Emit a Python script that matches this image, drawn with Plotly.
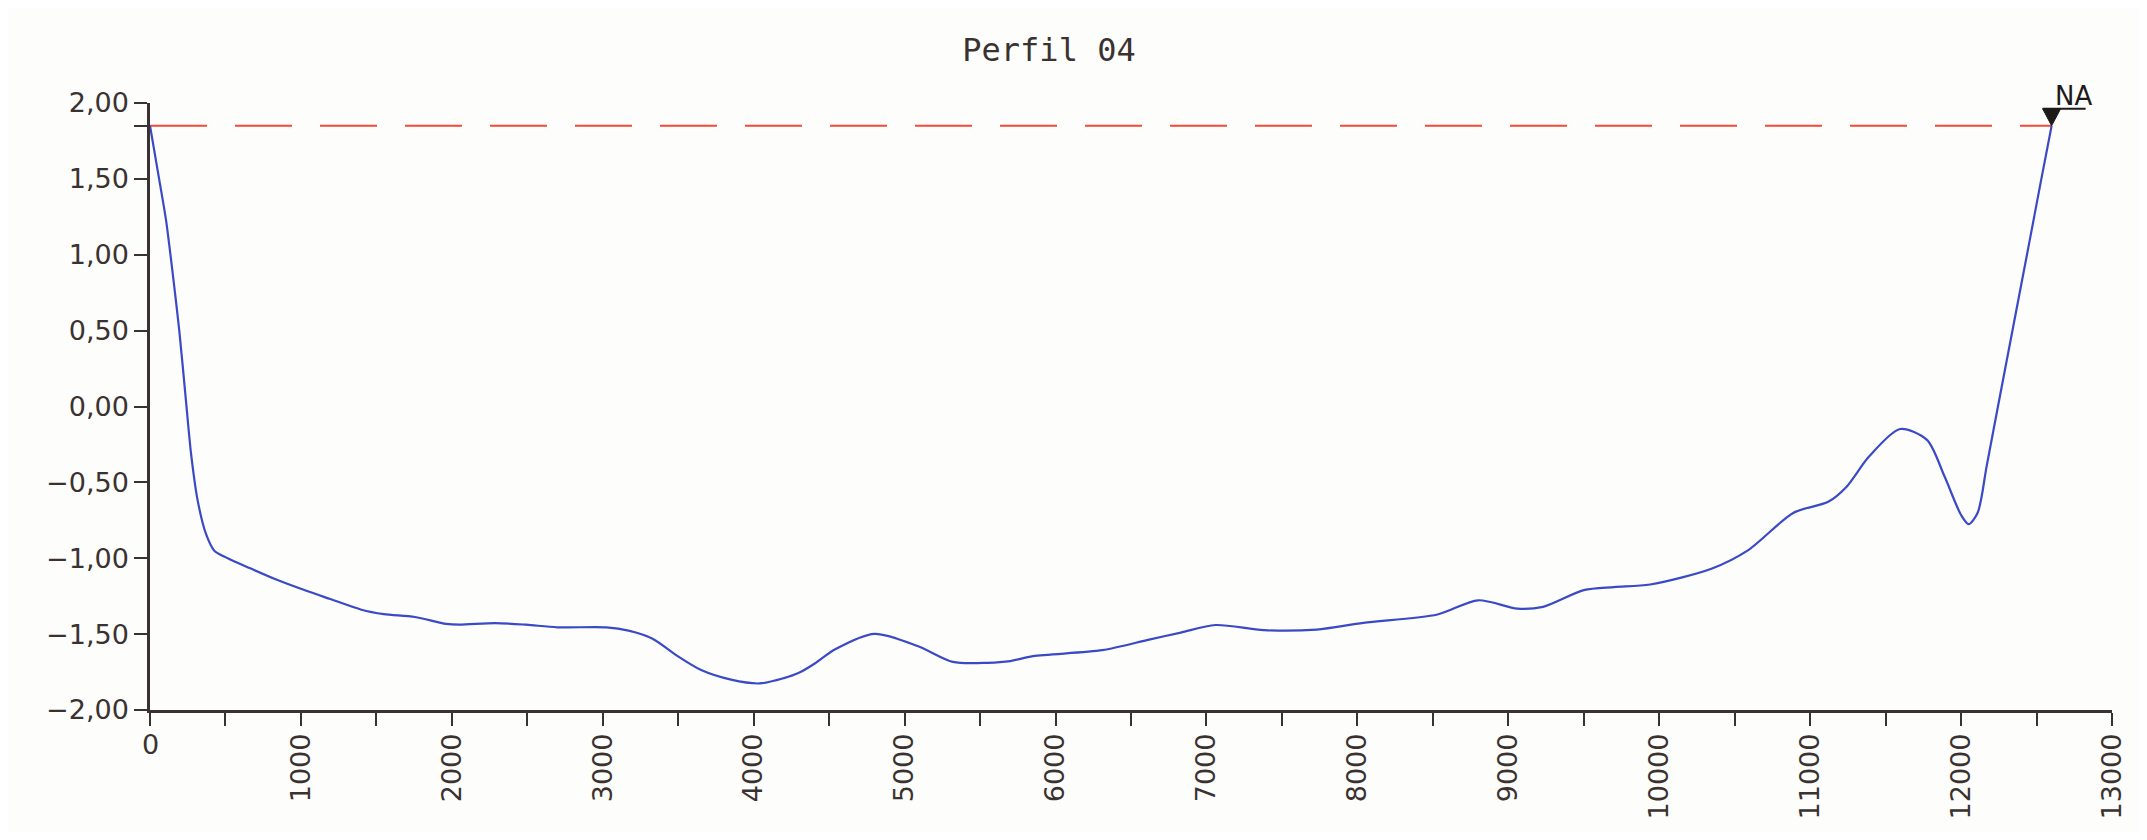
import plotly.graph_objects as go

# ---- data ----
dist = [0, 62, 106, 150, 194, 238, 272, 316, 371, 426, 515, 664, 841, 1018, 1195,
        1401, 1549, 1755, 1962, 2050, 2286, 2493, 2699, 3024, 3171, 3330, 3496,
        3648, 3850, 4040, 4200, 4300, 4410, 4540, 4800, 5090, 5320, 5550, 5700,
        5850, 6310, 6620, 6830, 7060, 7380, 7730, 8040, 8530, 8800, 9060, 9230,
        9500, 9700, 9940, 10350, 10590, 10890, 11120, 11240, 11390, 11596,
        11774, 11890, 12000, 12050, 12110, 12170, 12250, 12350, 12450, 12530, 12600]
cota = [1.85, 1.49, 1.23, 0.88, 0.50, 0.04, -0.31, -0.62, -0.84, -0.95, -1.00,
        -1.066, -1.142, -1.208, -1.269, -1.339, -1.368, -1.387, -1.433, -1.438,
        -1.427, -1.438, -1.455, -1.455, -1.477, -1.53, -1.645, -1.735, -1.80,
        -1.825, -1.79, -1.755, -1.69, -1.60, -1.498, -1.58, -1.683, -1.689, -1.678,
        -1.645, -1.606, -1.536, -1.49, -1.44, -1.474, -1.47, -1.426, -1.371,
        -1.277, -1.332, -1.32, -1.21, -1.19, -1.173, -1.067, -0.946, -0.70, -0.628,
        -0.53, -0.33, -0.148, -0.22, -0.46, -0.715, -0.775, -0.70, -0.39, 0.03,
        0.55, 1.07, 1.49, 1.85]
water_level = 1.85
water_label = "NA"
title_text = "Perfil 04"

xtick_vals = list(range(0, 13001, 500))
xtick_text = ["" if (v % 1000 or v == 0) else str(v) for v in xtick_vals]
x_zero_label = "0"
ytick_vals = [-2.0, -1.5, -1.0, -0.5, 0.0, 0.5, 1.0, 1.5, 1.85, 2.0]
ytick_text = ["\u22122,00", "\u22121,50", "\u22121,00", "\u22120,50", "0,00",
              "0,50", "1,00", "1,50", "", "2,00"]

INK = "#3a3230"
TICKFONT = dict(family="DejaVu Sans", size=27, color=INK)

# page body has an 8px margin: figure coordinates are page coordinates minus 8
W, H = 2131, 824

fig = go.Figure()
# water level (dashed)
fig.add_trace(go.Scatter(
    x=[dist[0], dist[-1]], y=[water_level, water_level], mode="lines",
    line=dict(color="#f24a38", width=2, dash="57px,28px"),
    hoverinfo="skip", showlegend=False))
# profile
fig.add_trace(go.Scatter(
    x=dist, y=cota, mode="lines",
    line=dict(color="#3a4ac6", width=2.2, shape="spline", smoothing=0.8),
    showlegend=False))

# NA marker (triangle + line), anchored at the end of the profile on the water level
fig.add_shape(type="path", xref="x", yref="y", xsizemode="pixel", ysizemode="pixel",
              xanchor=dist[-1], yanchor=water_level,
              path="M -9,17 L 9,17 L 0,0 Z", fillcolor="#1e1a1a",
              line=dict(color="#1e1a1a", width=1), layer="above")
fig.add_shape(type="line", xref="x", yref="y", xsizemode="pixel", ysizemode="pixel",
              xanchor=dist[-1], yanchor=water_level,
              x0=-9, x1=34, y0=17, y1=17,
              line=dict(color="#1e1a1a", width=2), layer="above")
fig.add_annotation(x=dist[-1], y=water_level, xref="x", yref="y",
                   text=water_label, showarrow=False, xanchor="left", yanchor="bottom",
                   xshift=1, yshift=13,
                   font=dict(family="DejaVu Sans", size=26, color="#1e1a1a"))
# upright "0" label at the origin
fig.add_annotation(x=0, y=0, xref="x", yref="paper", text=x_zero_label,
                   showarrow=False, xanchor="center", yanchor="top", yshift=-17,
                   font=TICKFONT)

fig.update_layout(
    width=W, height=H,
    margin=dict(l=142, r=22, t=95, b=122),
    paper_bgcolor="#fdfdfb", plot_bgcolor="#fdfdfb",
    separators=",.",
    title=dict(text=title_text, xref="container", yref="container",
               x=1041 / W, xanchor="center", y=1 - 42 / H, yanchor="middle",
               font=dict(family="DejaVu Sans Mono", size=32, color=INK)),
    showlegend=False,
)
fig.update_xaxes(range=[0, 13000], tickmode="array", tickvals=xtick_vals,
                 ticktext=xtick_text, tickangle=-90, ticks="outside", ticklen=13,
                 tickwidth=2, tickcolor=INK, showline=True, linecolor=INK,
                 linewidth=2.5, showgrid=False, zeroline=False, tickfont=TICKFONT,
                 ticklabelstandoff=-3)
fig.update_yaxes(range=[-2, 2], tickmode="array", tickvals=ytick_vals,
                 ticktext=ytick_text, ticks="outside", ticklen=13, tickwidth=2,
                 tickcolor=INK, showline=True, linecolor=INK, linewidth=2.5,
                 showgrid=False, zeroline=False, tickfont=TICKFONT)

fig.write_html("out.html")
